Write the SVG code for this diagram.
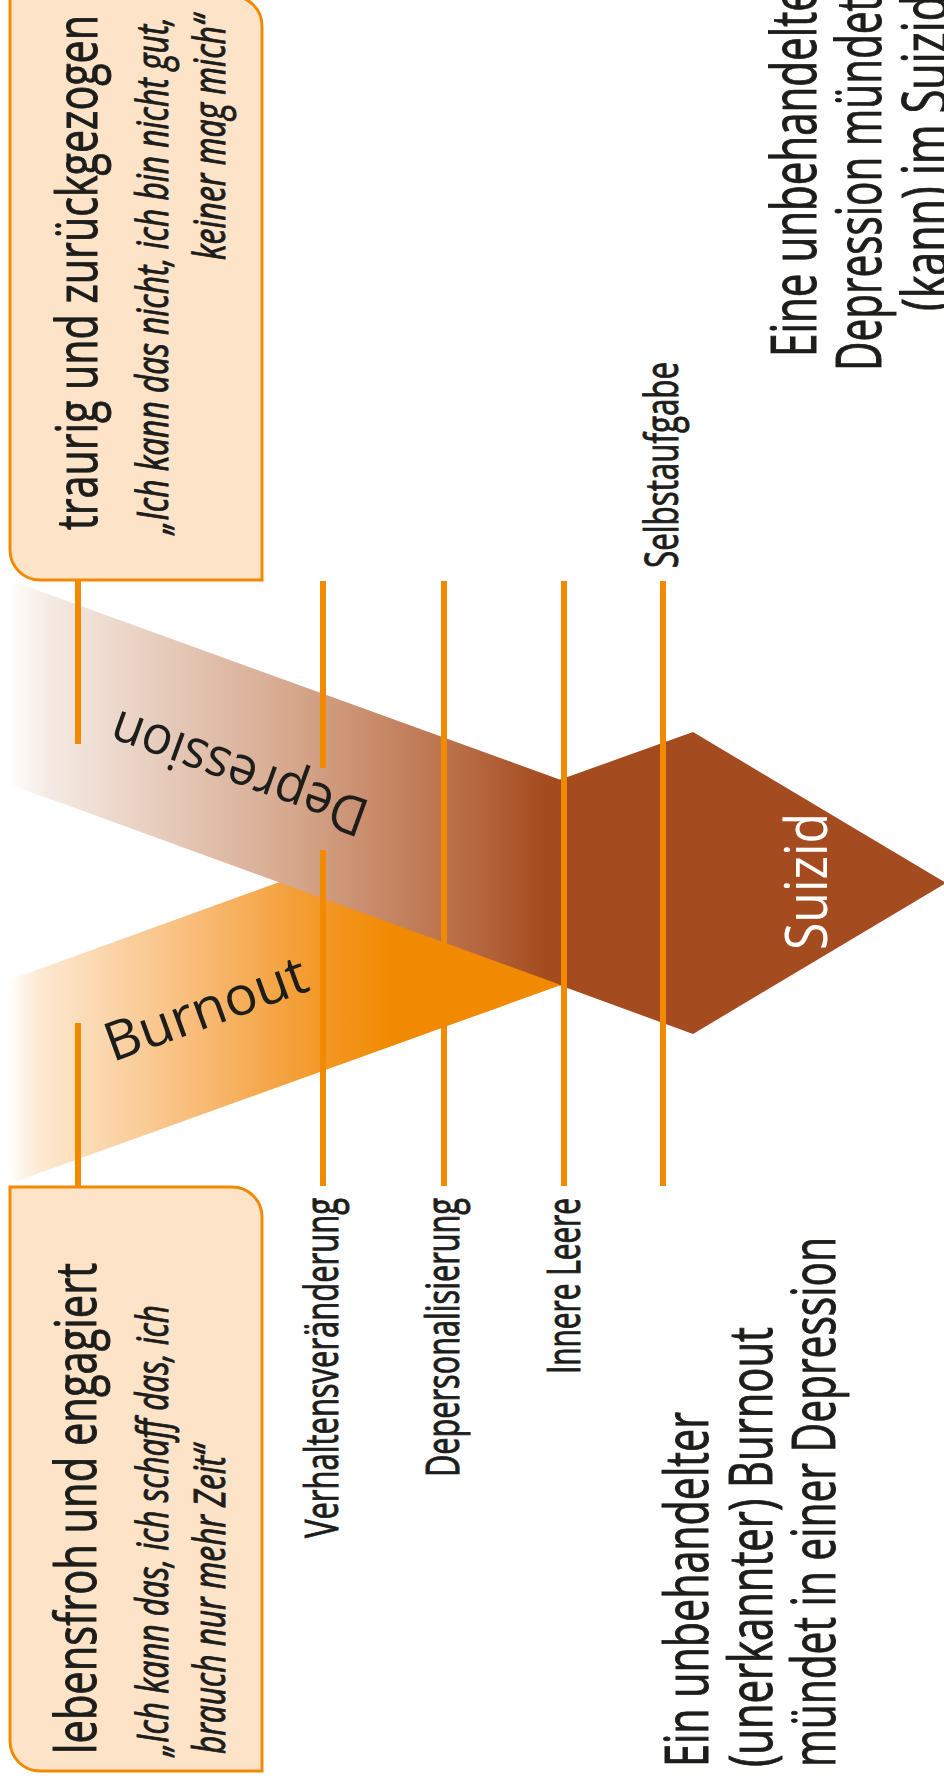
<svg xmlns="http://www.w3.org/2000/svg" width="944" height="1782" viewBox="0 0 944 1782">
<defs>
<linearGradient id="gDep" gradientUnits="userSpaceOnUse" x1="9" y1="0" x2="561" y2="0">
<stop offset="0" stop-color="#FFFFFF"/>
<stop offset="0.07" stop-color="#F5EBE4"/>
<stop offset="0.5" stop-color="#D7AA90"/>
<stop offset="0.8" stop-color="#BB714A"/>
<stop offset="0.97" stop-color="#A54B20"/>
</linearGradient>
<linearGradient id="gBurn" gradientUnits="userSpaceOnUse" x1="9" y1="0" x2="390" y2="0">
<stop offset="0" stop-color="#FFFFFF"/>
<stop offset="0.08" stop-color="#FDE9D2"/>
<stop offset="0.5" stop-color="#F8BB76"/>
<stop offset="0.8" stop-color="#F39A2C"/>
<stop offset="1" stop-color="#F18A00"/>
</linearGradient>
<style>
.box{fill:#FDE3C7;stroke:#F18A00;stroke-width:3}
.conn{stroke:#F18A00;stroke-width:6;fill:none}
.t{font-family:"Open Sans","Noto Sans","DejaVu Sans",sans-serif;fill:#1D1D1B}
.w{stroke:#1D1D1B;stroke-width:1}
.h{font-size:57px}
.q{font-size:43px;font-style:italic}
.lab{font-size:46px}
.big{font-size:62px}
.big2{font-size:60px}
.band{font-size:54px}
</style>
</defs>

<g id="burnout">
<path d="M9,980 L561,780 L561,985 L9,1184 Z" fill="url(#gBurn)"/>
</g>
<g id="depression">
<path d="M9,580 L561,780 L561,985 L9,784 Z" fill="url(#gDep)"/>
</g>
<g id="suizid">
<path d="M559,780 L693,732 L946,883 L693,1034 L559,985 Z" fill="#A54B20"/>
</g>

<g id="connectors">
<line class="conn" x1="323" y1="581" x2="323" y2="768"/>
<line class="conn" x1="323" y1="850" x2="323" y2="1186"/>
<line class="conn" x1="444" y1="581" x2="444" y2="1186"/>
<line class="conn" x1="564" y1="581" x2="564" y2="1186"/>
<line class="conn" x1="663" y1="581" x2="663" y2="1186"/>
<line class="conn" x1="78" y1="580" x2="78" y2="744"/>
<line class="conn" x1="78" y1="1023" x2="78" y2="1187"/>
</g>

<g id="depression-label">
<text class="t band" transform="translate(240,770) rotate(200)" x="0" y="15" text-anchor="middle" textLength="270" lengthAdjust="spacingAndGlyphs">Depression</text>
</g>
<g id="burnout-label">
<text class="t band" transform="translate(207,1012) rotate(-20)" x="0" y="15" text-anchor="middle" textLength="212" lengthAdjust="spacingAndGlyphs">Burnout</text>
</g>
<g id="suizid-label">
<text class="t" style="fill:#FFFFFF;font-size:58px" transform="translate(827,950) rotate(-90)" textLength="137" lengthAdjust="spacingAndGlyphs">Suizid</text>
</g>

<g id="box-top">
<path class="box" d="M10,-4 H232 A30,30 0 0 1 262,26 V580 H40 A30,30 0 0 1 10,550 Z"/>
<text class="t w h" transform="translate(97,530) rotate(-90)" textLength="515" lengthAdjust="spacingAndGlyphs">traurig und zurückgezogen</text>
<text class="t w q" transform="translate(168,534) rotate(-90)" textLength="517" lengthAdjust="spacingAndGlyphs">„Ich kann das nicht, ich bin nicht gut,</text>
<text class="t w q" transform="translate(225,260) rotate(-90)" textLength="245" lengthAdjust="spacingAndGlyphs">keiner mag mich“</text>
</g>

<g id="box-bottom">
<path class="box" d="M10,1187 H232 A30,30 0 0 1 262,1217 V1771 H40 A30,30 0 0 1 10,1741 Z"/>
<text class="t w h" transform="translate(96,1754) rotate(-90)" textLength="491" lengthAdjust="spacingAndGlyphs">lebensfroh und engagiert</text>
<text class="t w q" transform="translate(168,1756) rotate(-90)" textLength="451" lengthAdjust="spacingAndGlyphs">„Ich kann das, ich schaff das, ich</text>
<text class="t w q" transform="translate(225,1754) rotate(-90)" textLength="309" lengthAdjust="spacingAndGlyphs">brauch nur mehr Zeit“</text>
</g>

<g id="stage-labels">
<text class="t w lab" transform="translate(338,1538) rotate(-90)" textLength="340" lengthAdjust="spacingAndGlyphs">Verhaltensveränderung</text>
<text class="t w lab" transform="translate(459,1477) rotate(-90)" textLength="279" lengthAdjust="spacingAndGlyphs">Depersonalisierung</text>
<text class="t w lab" transform="translate(580,1374) rotate(-90)" textLength="176" lengthAdjust="spacingAndGlyphs">Innere Leere</text>
<text class="t w lab" transform="translate(678,568) rotate(-90)" textLength="206" lengthAdjust="spacingAndGlyphs">Selbstaufgabe</text>
</g>

<g id="note-depression">
<text class="t w big" transform="translate(816,357) rotate(-90)" textLength="369" lengthAdjust="spacingAndGlyphs">Eine unbehandelte</text>
<text class="t w big" transform="translate(881,371) rotate(-90)" textLength="374" lengthAdjust="spacingAndGlyphs">Depression mündet</text>
<text class="t w big" transform="translate(947,311) rotate(-90)" textLength="316" lengthAdjust="spacingAndGlyphs">(kann) im Suizid</text>
</g>

<g id="note-burnout">
<text class="t w big2" transform="translate(708,1767) rotate(-90)" textLength="355" lengthAdjust="spacingAndGlyphs">Ein unbehandelter</text>
<text class="t w big2" transform="translate(772,1767) rotate(-90)" textLength="440" lengthAdjust="spacingAndGlyphs">(unerkannter) Burnout</text>
<text class="t w big2" transform="translate(835,1767) rotate(-90)" textLength="530" lengthAdjust="spacingAndGlyphs">mündet in einer Depression</text>
</g>
</svg>
